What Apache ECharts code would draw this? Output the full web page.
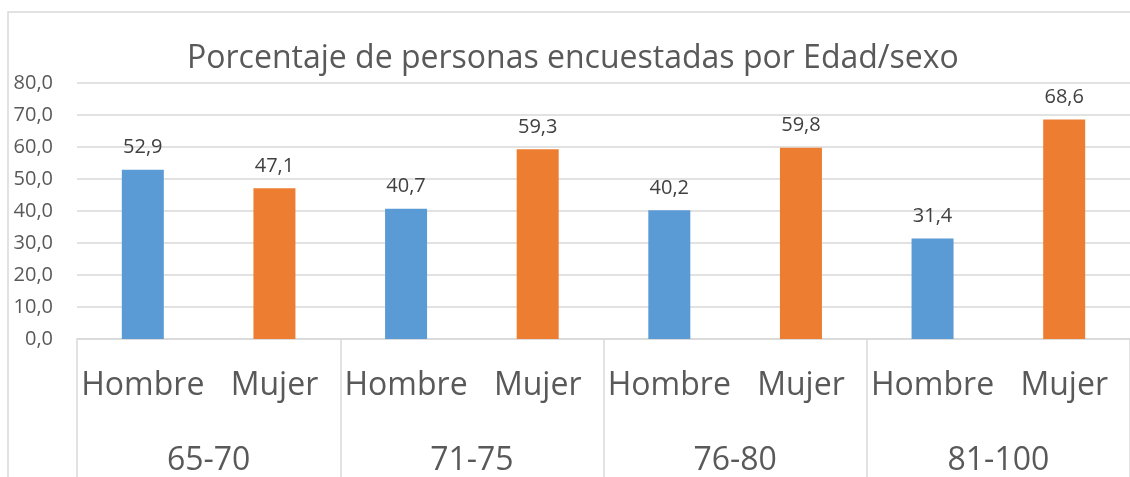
<!DOCTYPE html>
<html>
<head>
<meta charset="utf-8">
<script src="https://cdn.jsdelivr.net/npm/echarts@6/dist/echarts.min.js"></script>
<style>html,body{margin:0;padding:0;background:#fff}#c{width:1130px;height:477px}</style>
</head>
<body>
<div id="c"></div>
<script>
const titleText = 'Porcentaje de personas encuestadas por Edad/sexo';
const groups = ['65-70', '71-75', '76-80', '81-100'];
const sexes = ['Hombre', 'Mujer'];
const hombre = [52.9, 40.7, 40.2, 31.4];
const mujer = [47.1, 59.3, 59.8, 68.6];
const yTicks = [0, 10, 20, 30, 40, 50, 60, 70, 80];

const cats = [];
const hData = [];
const mData = [];
groups.forEach((g, i) => {
  cats.push(sexes[0], sexes[1]);
  hData.push(hombre[i], '-');
  mData.push('-', mujer[i]);
});
const fmt = v => Number(v).toFixed(1).replace('.', ',');
const FONT = '"Open Sans", "Noto Sans", sans-serif';

const chart = echarts.init(document.getElementById('c'), null, {renderer: 'canvas'});
const labelCfg = {
  show: true, position: 'top', distance: 12,
  color: '#404040', fontSize: 20, fontFamily: FONT,
  formatter: p => fmt(p.value)
};
chart.setOption({
  animation: false,
  backgroundColor: '#fff',
  title: {
    text: titleText, left: 182, top: 38,
    textStyle: {color: '#595959', fontSize: 32, fontWeight: 'normal', fontFamily: FONT}
  },
  graphic: [{
    type: 'rect', shape: {x: 8, y: 12, width: 1140, height: 480},
    style: {fill: 'none', stroke: '#D9D9D9', lineWidth: 1.5}, z: -1
  }],
  grid: {left: 77, right: 0, top: 83, bottom: 135, containLabel: false},
  xAxis: [{
    type: 'category', data: cats, position: 'bottom',
    axisLine: {show: true, lineStyle: {color: '#D9D9D9', width: 1.5}},
    axisTick: {show: false},
    axisLabel: {color: '#595959', fontSize: 32, fontFamily: FONT, margin: 31, interval: 0}
  }, {
    type: 'category', data: groups, position: 'bottom', offset: 0,
    axisLine: {show: false},
    axisTick: {show: true, length: 140, lineStyle: {color: '#D9D9D9', width: 1.5}},
    axisLabel: {color: '#595959', fontSize: 32, fontFamily: FONT, margin: 106, interval: 0}
  }],
  yAxis: {
    type: 'value', min: yTicks[0], max: yTicks[yTicks.length - 1], interval: 10,
    axisLine: {show: false}, axisTick: {show: false},
    axisLabel: {color: '#595959', fontSize: 20, fontFamily: FONT, margin: 24, formatter: v => fmt(v)},
    splitLine: {lineStyle: {color: '#D9D9D9', width: 1.5}}
  },
  series: [{
    name: 'Hombre', type: 'bar', xAxisIndex: 0, data: hData,
    barWidth: 42, barGap: '-100%',
    itemStyle: {color: '#5B9BD5'}, label: labelCfg
  }, {
    name: 'Mujer', type: 'bar', xAxisIndex: 0, data: mData,
    barWidth: 42, barGap: '-100%',
    itemStyle: {color: '#ED7D31'}, label: labelCfg
  }]
});
</script>
</body>
</html>
